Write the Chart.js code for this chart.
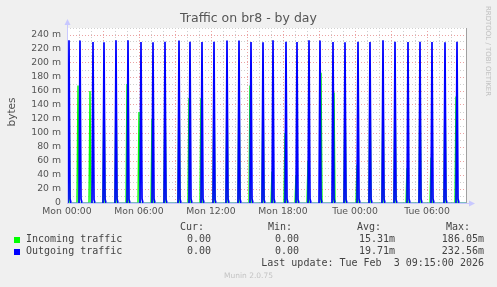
<!DOCTYPE html>
<html>
<head>
<meta charset="utf-8">
<script src="https://cdn.jsdelivr.net/npm/chart.js@4/dist/chart.umd.min.js"></script>
<style>
  html, body { margin: 0; padding: 0; background: #f0f0f0; }
  #wrap { position: relative; width: 497px; height: 287px; overflow: hidden; background: #f0f0f0; }
  #c { position: absolute; left: 0; top: 0; }
  .t { position: absolute; white-space: pre; color: #555; font-family: "DejaVu Sans", sans-serif; }
  .m { position: absolute; white-space: pre; color: #444; font-family: "DejaVu Sans Mono", monospace; font-size: 10px; line-height: 12px; }
  .sq { position: absolute; width: 6px; height: 6px; }
</style>
</head>
<body>
<div id="wrap">
  <canvas id="c" width="497" height="287"></canvas>
  <div class="t" id="title" style="left:0;width:497px;text-align:center;top:10px;font-size:12.5px;">Traffic on br8 - by day</div>
  <div class="t" id="ylab" style="left:-9px;top:106px;width:40px;text-align:center;font-size:10.5px;color:#505050;transform:rotate(-90deg);">bytes</div>
  <div class="t" style="left:438px;top:47px;width:100px;text-align:center;font-size:7px;color:#c0c0c0;transform:rotate(90deg);">RRDTOOL / TOBI OETIKER</div>
  <div class="t" style="left:0;width:497px;text-align:center;top:271px;font-size:7.5px;color:#c4c4c4;">Munin 2.0.75</div>
</div>
<script>
// ---- data (minutes after Mon 00:00, values in millions of bytes) ----
const xTickLabels = ['Mon 00:00', 'Mon 06:00', 'Mon 12:00', 'Mon 18:00', 'Tue 00:00', 'Tue 06:00'];
const seriesNames = ['Incoming traffic', 'Outgoing traffic'];
const seriesColors = ['#00ff00', '#0000ff'];
const statCur = ['0.00', '0.00'];
const statMin = ['0.00', '0.00'];
const statAvg = ['15.31m', '19.71m'];
const statMax = ['186.05m', '232.56m'];
const lastUpdate = 'Last update: Tue Feb  3 09:15:00 2026';

const outTimes = [10, 65, 130, 185, 245, 305, 370, 430, 490, 560, 615, 675, 735, 800, 860, 920, 980,
                  1030, 1095, 1150, 1210, 1265, 1330, 1390, 1455, 1515, 1580, 1640, 1705, 1765, 1825, 1890, 1950];
const outPeaks = [232.4, 232.3, 230.1, 229.8, 232.4, 232.5, 230.0, 229.6, 230.2, 232.1, 230.3, 229.9, 230.4, 232.0, 232.2, 230.0, 229.7,
                  232.4, 230.3, 230.1, 232.5, 232.2, 230.0, 229.8, 230.4, 230.1, 232.56, 230.2, 229.9, 230.3, 230.0, 229.8, 230.2];
const outTails = [6, 6, 5, 6, 6, 5, 6, 6, 5, 6, 6, 6, 5, 6, 6, 6, 5,
                  6, 6, 5, 6, 6, 6, 5, 6, 6, 6, 5, 6, 6, 6, 5, 6];

const inTimes = [10, 55, 115, 185, 245, 300, 360, 425, 490, 560, 610, 670, 735, 800, 860, 915, 980,
                 1025, 1090, 1145, 1205, 1270, 1335, 1390, 1450, 1515, 1580, 1640, 1700, 1765, 1820, 1890, 1945];
const inPeaks = [184, 168, 160, 183, 182, 170, 130, 120, 180, 181, 150, 150, 178, 182, 185, 168, 180,
                 45, 100, 40, 60, 186.05, 158, 180, 55, 182, 178, 183, 50, 180, 65, 181, 152];

const xMax = 1995;   // Tue 09:15
const yMax = 250;

// ---- build point lists from the arrays ----
function outSeries() {
  const pts = [{x: 0, y: 0}];
  outTimes.forEach((t, i) => {
    pts.push({x: t - 5, y: 0}, {x: t, y: outPeaks[i]}, {x: t + 5, y: outTails[i]}, {x: t + 10, y: 0});
  });
  pts.push({x: xMax, y: 0});
  return pts;
}
function inSeries() {
  const pts = [{x: 0, y: 0}];
  inTimes.forEach((t, i) => {
    pts.push({x: t - 5, y: 0}, {x: t, y: inPeaks[i]}, {x: t + 5, y: 0});
  });
  pts.push({x: xMax, y: 0});
  return pts;
}

// ---- legend table (text) ----
(function () {
  const wrap = document.getElementById('wrap');
  function line(top, left, txt) {
    const d = document.createElement('div');
    d.className = 'm';
    d.style.top = top + 'px';
    d.style.left = left + 'px';
    d.textContent = txt;
    wrap.appendChild(d);
  }
  function rline(top, right, txt) {
    const d = document.createElement('div');
    d.className = 'm';
    d.style.top = top + 'px';
    d.style.right = (497 - right) + 'px';
    d.textContent = txt;
    wrap.appendChild(d);
  }
  rline(221, 204, 'Cur:');
  rline(221, 292, 'Min:');
  rline(221, 381, 'Avg:');
  rline(221, 470, 'Max:');
  const rows = [233, 245];
  seriesNames.forEach((n, i) => {
    const sq = document.createElement('div');
    sq.className = 'sq';
    sq.style.left = '14px';
    sq.style.top = (rows[i] + 4) + 'px';
    sq.style.background = seriesColors[i];
    wrap.appendChild(sq);
    line(rows[i], 26, n);
    rline(rows[i], 211, statCur[i]);
    rline(rows[i], 299, statMin[i]);
    rline(rows[i], 395, statAvg[i]);
    rline(rows[i], 484, statMax[i]);
  });
  rline(257, 484, lastUpdate);
})();

// ---- axes / frame plugin ----
const frame = {
  id: 'frame',
  afterDatasetsDraw(chart) {
    const {ctx, chartArea: a} = chart;
    ctx.save();
    ctx.strokeStyle = '#a0a0a0';
    ctx.lineWidth = 1;
    ctx.beginPath();
    ctx.moveTo(Math.round(a.right) + 0.5, a.top);
    ctx.lineTo(Math.round(a.right) + 0.5, a.bottom);
    ctx.stroke();
    ctx.strokeStyle = '#c8c8ff';
    ctx.fillStyle = '#c8c8ff';
    const x0 = Math.round(a.left) + 0.5, y0 = Math.round(a.bottom) + 0.5;
    ctx.beginPath();
    ctx.moveTo(x0, y0);
    ctx.lineTo(x0, a.top - 4);
    ctx.moveTo(x0, y0);
    ctx.lineTo(a.right + 4, y0);
    ctx.stroke();
    ctx.beginPath();
    ctx.moveTo(x0, a.top - 9); ctx.lineTo(x0 - 3, a.top - 3); ctx.lineTo(x0 + 3, a.top - 3); ctx.closePath(); ctx.fill();
    ctx.beginPath();
    ctx.moveTo(a.right + 9, y0); ctx.lineTo(a.right + 3, y0 - 3); ctx.lineTo(a.right + 3, y0 + 3); ctx.closePath(); ctx.fill();
    ctx.restore();
  }
};

const bgPlugin = {
  id: 'bg',
  beforeDraw(chart) {
    const {ctx, chartArea: a} = chart;
    ctx.save();
    ctx.fillStyle = '#ffffff';
    ctx.fillRect(a.left, a.top, a.right - a.left, a.bottom - a.top);
    ctx.restore();
  }
};

const flat = c => c.p0.parsed.y === 0 && c.p1.parsed.y === 0;

new Chart(document.getElementById('c'), {
  type: 'line',
  data: {
    datasets: [
      {label: seriesNames[1], data: outSeries(), borderColor: seriesColors[1], borderWidth: 1, pointRadius: 0, tension: 0, fill: false, order: 0,
       segment: {borderWidth: c => flat(c) ? 1 : 1.7, borderColor: c => flat(c) ? '#7a7aff' : '#0000ff'}},
      {label: seriesNames[0], data: inSeries(), borderColor: seriesColors[0], borderWidth: 1, pointRadius: 0, tension: 0, fill: false, order: 1,
       segment: {borderWidth: c => flat(c) ? 1 : 1.4}}
    ]
  },
  options: {
    responsive: false,
    animation: false,
    events: [],
    layout: {padding: {left: 0, top: 28, right: 31, bottom: 64}},
    plugins: {legend: {display: false}, title: {display: false}, tooltip: {enabled: false}},
    scales: {
      x: {
        type: 'linear', min: 0, max: xMax,
        afterFit: s => { s.height = 20; },
        border: {display: false, dash: [1, 2]},
        grid: {
          drawTicks: false,
          color: c => (c.tick && c.tick.value % 180 === 0 && c.tick.value !== xMax) ? '#eba3a3' : '#cfcfcf'
        },
        ticks: {
          stepSize: 60, autoSkip: false, maxRotation: 0, maxTicksLimit: 100, padding: 3,
          color: '#555', font: {family: 'DejaVu Sans', size: 9.3},
          callback: v => (v % 360 === 0 && v / 360 < xTickLabels.length) ? xTickLabels[v / 360] : ''
        }
      },
      y: {
        min: 0, max: yMax,
        afterFit: s => { s.width = 67; },
        border: {display: false, dash: [1, 2]},
        grid: {
          drawTicks: false,
          color: c => (c.tick && c.tick.value % 20 === 0) ? '#eba3a3' : '#cfcfcf'
        },
        ticks: {
          stepSize: 10, autoSkip: false, padding: 6,
          color: '#555', font: {family: 'DejaVu Sans', size: 9.3},
          callback: v => v === 0 ? '0' : (v % 20 === 0 ? v + ' m' : '')
        }
      }
    }
  },
  plugins: [bgPlugin, frame]
});
</script>
</body>
</html>
